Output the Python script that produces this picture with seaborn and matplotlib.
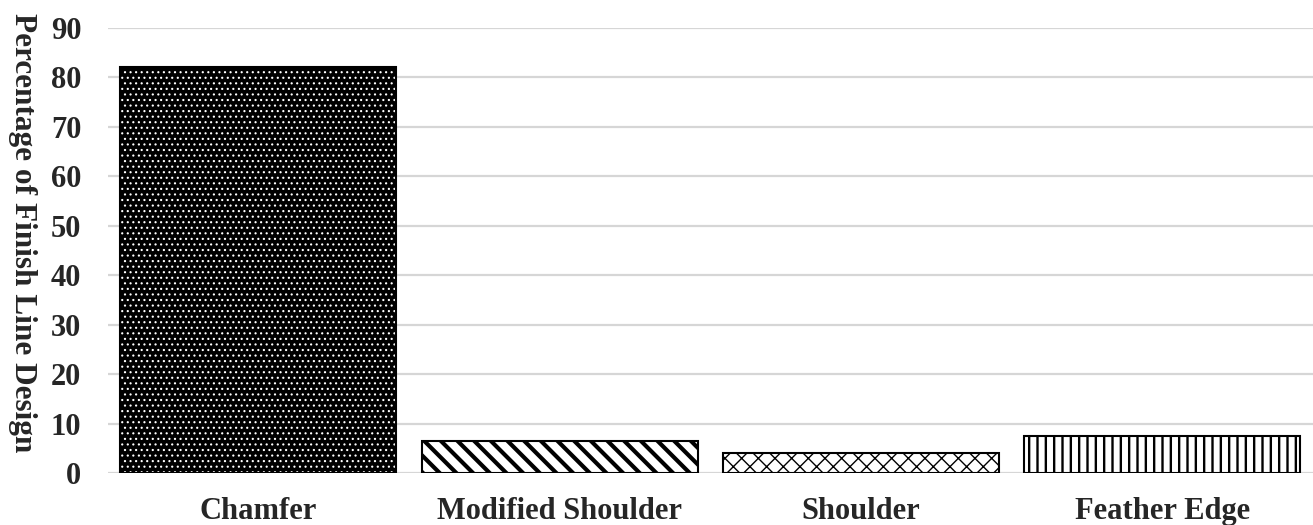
import matplotlib
matplotlib.use("Agg")
import matplotlib.pyplot as plt
import seaborn as sns

# =====================================
# Data
# =====================================

designs = ["Chamfer", "Modified Shoulder", "Shoulder", "Feather Edge"]
percentages = [82, 6.5, 4, 7.5]
y_ticks = [0, 10, 20, 30, 40, 50, 60, 70, 80, 90]

# =====================================
# Style
# =====================================

sns.set_style("white")
plt.rcParams["font.family"] = ["Liberation Serif", "DejaVu Serif"]
plt.rcParams["font.weight"] = "bold"
plt.rcParams["hatch.linewidth"] = 1.0

fig = plt.figure(figsize=(13.13, 5.25), dpi=100)
ax = fig.add_axes([0.082, 0.099, 0.918, 0.848])

# hatched fills (no outline)
sns.barplot(
    x=designs,
    y=percentages,
    color="white",
    edgecolor="black",
    linewidth=0,
    width=0.915,
    ax=ax
)

hatches = ["...", "\\\\", "xx", "||"]
hatch_widths = [0.8, 3.0, 1.0, 1.7]

for bar, h, lw in zip(ax.patches, hatches, hatch_widths):
    bar.set_hatch(h)
    if hasattr(bar, "set_hatch_linewidth"):
        bar.set_hatch_linewidth(lw)

# chamfer: black fill, white dots
ax.patches[0].set_facecolor("black")
ax.patches[0].set_edgecolor("white")

# outlines on top
sns.barplot(
    x=designs,
    y=percentages,
    color="black",
    fill=False,
    linewidth=1.5,
    width=0.915,
    ax=ax
)

ax.set_ylim(0, 90)
ax.set_xlim(-0.5, 3.5)
ax.set_yticks(y_ticks)

ax.yaxis.grid(True, color="#d6d6d6", linewidth=1.6)
ax.set_axisbelow(True)
sns.despine(ax=ax, left=True, bottom=True)

ax.tick_params(axis="y", length=0, pad=19, labelsize=22)
ax.tick_params(axis="x", length=0, pad=17.5, labelsize=22)
for lbl in ax.get_xticklabels() + ax.get_yticklabels():
    lbl.set_fontweight("bold")

ax.set_xlabel("")
ax.set_ylabel(
    "Percentage of Finish Line Design",
    fontsize=22.5,
    fontweight="bold",
    rotation=-90,
    ha="center",
    va="center",
    rotation_mode="anchor"
)
ax.yaxis.set_label_coords(-0.071, 0.54)

plt.savefig("out.png", dpi=100)
plt.close()
